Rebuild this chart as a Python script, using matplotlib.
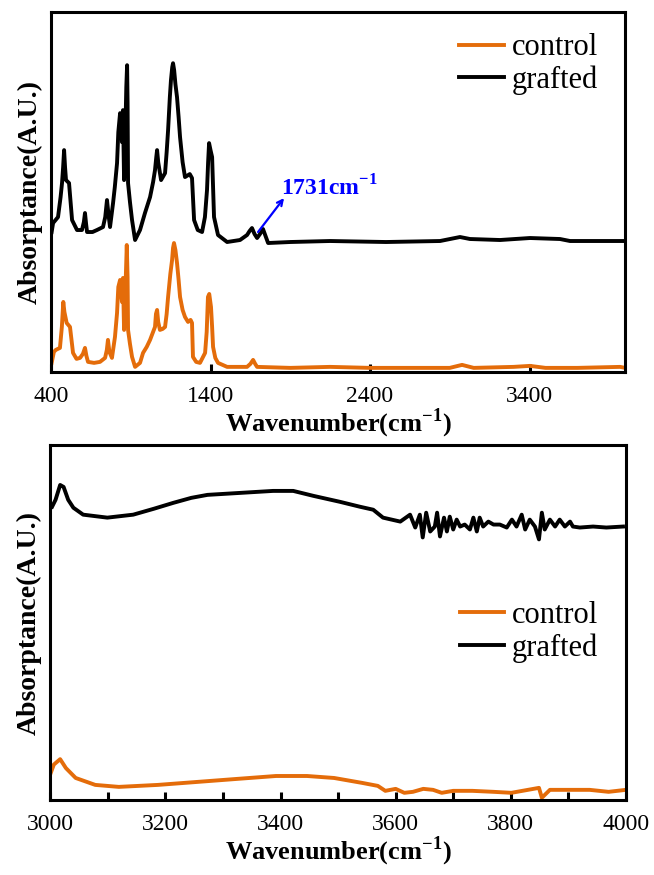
import matplotlib
matplotlib.use('Agg')
import matplotlib.pyplot as plt
from matplotlib.ticker import MultipleLocator

plt.rcParams['font.family'] = 'Liberation Serif'
plt.rcParams['mathtext.fontset'] = 'custom'
plt.rcParams['mathtext.rm'] = 'Liberation Serif'
plt.rcParams['mathtext.bf'] = 'Liberation Serif:bold'

# --- panel 1: full range (400-4000 cm-1) ---
wn_ctrl = [404, 418, 430, 456, 468, 477, 484, 498, 519, 538, 560, 582, 600, 613, 622, 632,
           670, 707, 739, 750, 757, 766, 782, 801, 814, 822, 833, 845, 851, 858, 868, 875,
           880, 883, 895, 908, 927, 958, 977, 1000, 1021, 1040, 1052, 1058, 1065, 1072, 1083,
           1100, 1115, 1125, 1134, 1148, 1159, 1165, 1171, 1180, 1190, 1200, 1209, 1225, 1240,
           1259, 1275, 1284, 1290, 1310, 1334, 1366, 1376, 1384, 1392, 1403, 1410, 1416,
           1430, 1447, 1504, 1600, 1629, 1650, 1667, 1680, 1692, 1900, 2149, 2400, 2900,
           2977, 3050, 3300, 3403, 3500, 3700, 3968, 4000]
a_ctrl = [0.09, 0.20, 0.22, 0.24, 0.45, 0.70, 0.60, 0.49, 0.45, 0.19, 0.13, 0.14, 0.18, 0.24,
          0.16, 0.10, 0.09, 0.10, 0.14, 0.22, 0.32, 0.20, 0.14, 0.35, 0.59, 0.85, 0.92, 0.70,
          0.94, 0.42, 0.90, 1.27, 0.95, 0.42, 0.28, 0.15, 0.05, 0.09, 0.19, 0.25, 0.32, 0.40,
          0.45, 0.58, 0.62, 0.50, 0.42, 0.43, 0.45, 0.58, 0.75, 0.98, 1.12, 1.24, 1.29, 1.22,
          1.09, 0.92, 0.75, 0.62, 0.55, 0.50, 0.52, 0.49, 0.15, 0.10, 0.09, 0.19, 0.40, 0.75,
          0.78, 0.65, 0.45, 0.25, 0.14, 0.09, 0.05, 0.05, 0.05, 0.08, 0.12, 0.08, 0.05, 0.04,
          0.05, 0.04, 0.04, 0.07, 0.04, 0.05, 0.06, 0.04, 0.04, 0.05, 0.04]

wn_graft = [404, 413, 444, 460, 469, 476, 482, 488, 494, 513, 532, 563, 594, 606, 613, 620,
            626, 660, 688, 726, 740, 751, 760, 770, 789, 800, 814, 822, 833, 840, 845, 851,
            858, 866, 872, 877, 880, 883, 895, 908, 927, 958, 989, 1021, 1040, 1052, 1060,
            1065, 1072, 1090, 1115, 1125, 1134, 1145, 1152, 1160, 1165, 1172, 1180, 1190,
            1200, 1209, 1225, 1240, 1270, 1284, 1297, 1320, 1347, 1365, 1378, 1385, 1391,
            1400, 1410, 1422, 1447, 1504, 1585, 1629, 1645, 1660, 1676, 1692, 1710, 1729,
            1745, 1761, 1900, 2149, 2500, 2839, 2964, 3027, 3215, 3403, 3591, 3654, 3900,
            4000]
a_graft = [1.40, 1.49, 1.55, 1.75, 1.89, 2.05, 2.22, 2.05, 1.92, 1.89, 1.52, 1.42, 1.42, 1.50,
           1.59, 1.48, 1.40, 1.40, 1.42, 1.45, 1.55, 1.72, 1.58, 1.45, 1.69, 1.85, 2.09, 2.40,
           2.59, 2.50, 2.30, 2.62, 1.92, 2.40, 2.85, 3.07, 2.70, 1.89, 1.70, 1.52, 1.32, 1.42,
           1.59, 1.75, 1.90, 2.02, 2.15, 2.22, 2.10, 1.92, 1.99, 2.20, 2.42, 2.75, 2.92, 3.05,
           3.09, 3.02, 2.88, 2.75, 2.55, 2.35, 2.10, 1.95, 1.98, 1.94, 1.52, 1.42, 1.40, 1.55,
           1.82, 2.10, 2.29, 2.22, 2.15, 1.55, 1.37, 1.30, 1.32, 1.37, 1.41, 1.44, 1.38, 1.34,
           1.38, 1.43, 1.36, 1.29, 1.30, 1.31, 1.30, 1.31, 1.35, 1.33, 1.32, 1.34, 1.33, 1.31,
           1.31, 1.31]

# --- panel 2: 3000-4000 cm-1 ---
wn2_graft = [3003, 3009, 3017, 3023, 3031, 3040, 3057, 3099, 3144, 3180, 3214, 3245, 3273,
             3330, 3387, 3422, 3457, 3480, 3503, 3538, 3561, 3578, 3608, 3625, 3634, 3642,
             3647, 3653, 3660, 3668, 3672, 3677, 3684, 3689, 3694, 3700, 3706, 3712, 3720,
             3729, 3735, 3741, 3746, 3752, 3761, 3770, 3781, 3793, 3802, 3810, 3819, 3825,
             3833, 3842, 3849, 3854, 3859, 3868, 3877, 3885, 3894, 3903, 3908, 3920, 3943,
             3966, 3995]
a2_graft = [2.96, 3.03, 3.18, 3.16, 3.03, 2.95, 2.88, 2.85, 2.88, 2.94, 3.00, 3.05, 3.08,
            3.10, 3.12, 3.12, 3.07, 3.04, 3.01, 2.96, 2.93, 2.85, 2.81, 2.88, 2.75, 2.88,
            2.65, 2.90, 2.71, 2.76, 2.90, 2.66, 2.85, 2.71, 2.86, 2.73, 2.83, 2.76, 2.78,
            2.73, 2.85, 2.71, 2.85, 2.76, 2.81, 2.78, 2.78, 2.75, 2.83, 2.76, 2.88, 2.73,
            2.83, 2.76, 2.63, 2.90, 2.73, 2.83, 2.76, 2.83, 2.76, 2.81, 2.76, 2.75, 2.76,
            2.75, 2.76]

wn2_ctrl = [3000, 3006, 3017, 3027, 3044, 3078, 3119, 3187, 3255, 3323, 3392, 3446, 3493,
            3542, 3569, 3582, 3600, 3615, 3630, 3648, 3665, 3680, 3700, 3733, 3770, 3801,
            3849, 3854, 3868, 3900, 3937, 3970, 4000]
a2_ctrl = [0.26, 0.355, 0.41, 0.32, 0.22, 0.15, 0.13, 0.15, 0.18, 0.21, 0.24, 0.24, 0.22,
           0.17, 0.14, 0.09, 0.11, 0.07, 0.08, 0.11, 0.10, 0.07, 0.09, 0.09, 0.08, 0.07,
           0.12, 0.02, 0.10, 0.10, 0.10, 0.08, 0.10]

orange = '#E46C0A'
lw = 2.8

fig = plt.figure(figsize=(6.54, 8.75), dpi=100)
ax1 = fig.add_axes([0.078, 0.575, 0.878, 0.411])
ax2 = fig.add_axes([0.077, 0.086, 0.880, 0.405])

ax1.plot(wn_ctrl, a_ctrl, color=orange, lw=lw, label='control', solid_joinstyle='round')
ax1.plot(wn_graft, a_graft, color='black', lw=lw, label='grafted', solid_joinstyle='round')
ax1.set_xlim(400, 4000)
ax1.set_ylim(0, 3.6)
ax1.set_xticks([400, 1400, 2400, 3400])
ax1.annotate('', xy=(1861, 1.74), xytext=(1698, 1.40),
             arrowprops=dict(arrowstyle='->', color='blue', lw=1.6, shrinkA=0, shrinkB=0))
ax1.text(1840, 1.84, '1731cm$^{\\mathbf{-1}}$', color='blue', fontsize=17,
         fontweight='bold', va='center', ha='left')

ax2.plot(wn2_ctrl, a2_ctrl, color=orange, lw=lw, label='control', solid_joinstyle='round')
ax2.plot(wn2_graft, a2_graft, color='black', lw=lw, label='grafted', solid_joinstyle='round')
ax2.set_xlim(3000, 4000)
ax2.set_ylim(0, 3.58)
ax2.xaxis.set_major_locator(MultipleLocator(200))
ax2.xaxis.set_minor_locator(MultipleLocator(100))

for ax, leg_y in [(ax1, 0.975), (ax2, 0.595)]:
    ax.set_yticks([])
    for s in ax.spines.values():
        s.set_linewidth(2.2)
    ax.tick_params(axis='x', which='both', direction='in', length=6, width=2.2,
                   labelsize=17, pad=10)
    ax.set_xlabel('Wavenumber(cm$^{\\mathbf{-1}}$)', fontsize=19, fontweight='bold', labelpad=0)
    ax.set_ylabel('Absorptance(A.U.)', fontsize=20, fontweight='bold', labelpad=6)
    ax.legend(loc='upper left', bbox_to_anchor=(0.69, leg_y), frameon=False, fontsize=22,
              handlelength=1.45, handletextpad=0.25, labelspacing=0.1, borderaxespad=0)

fig.savefig('out.png', dpi=100)
